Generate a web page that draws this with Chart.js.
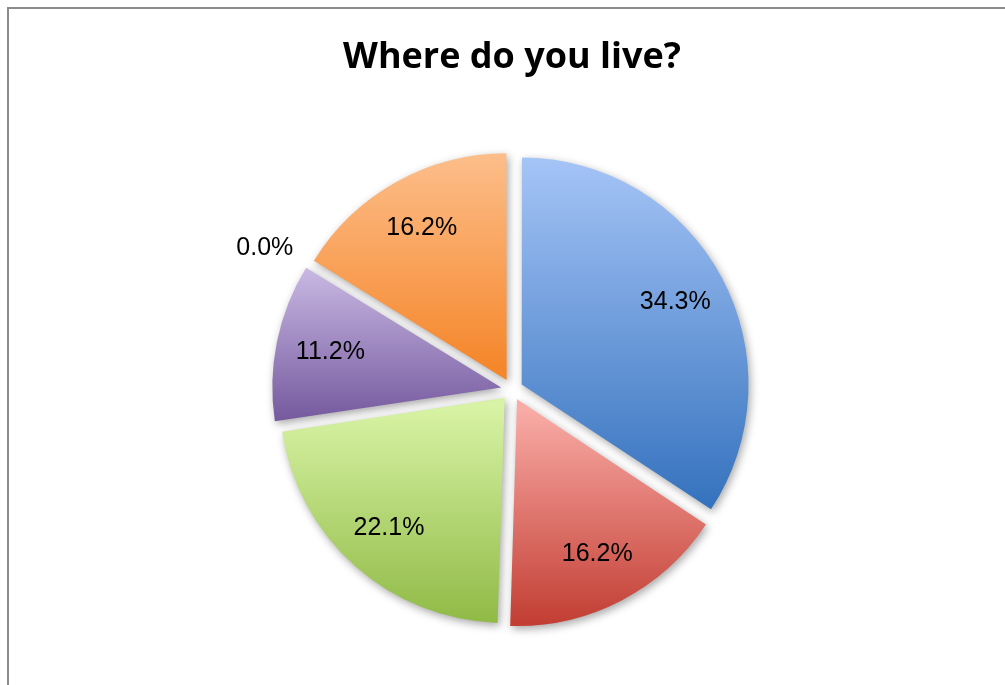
<!DOCTYPE html>
<html>
<head>
<meta charset="utf-8">
<script src="https://cdn.jsdelivr.net/npm/chart.js@4.4.1/dist/chart.umd.min.js"></script>
<style>
  html, body { margin: 0; padding: 0; background: #fff; overflow: hidden; }
  #frame { position: absolute; left: 7px; top: 7px; width: 1100px; height: 800px; border: 2px solid #8c8c8c; }
  #wrap { position: absolute; left: 0; top: 0; width: 1005px; height: 685px; }
</style>
</head>
<body>
<div id="frame"></div>
<div id="wrap"><canvas id="myChart"></canvas></div>
<script>
// answers, clockwise from 12 o'clock
const categories = ["Option 1", "Option 2", "Option 3", "Option 4", "Option 5", "Option 6"]
const shares = [34.3, 16.2, 22.1, 11.2, 0.0, 16.2]

// each slice fades from a light top to a darker bottom
const topColors = ["#a6c5f7", "#f9aba6", "#d8f3a5", "#c9b9e3", "#9bbb59", "#fdc08e"]
const bottomColors = ["#3673be", "#c0392e", "#8db842", "#765a9f", "#9bbb59", "#f5862a"]

const sliceLook = {
    id: 'sliceLook',
    beforeDatasetsDraw(chart) {
        const ctx = chart.ctx
        const meta = chart.getDatasetMeta(0)
        meta.data.forEach((arc, i) => {
            const {y, startAngle, endAngle, outerRadius} = arc.getProps(['y', 'startAngle', 'endAngle', 'outerRadius'], true)
            const mid = (startAngle + endAngle) / 2
            const shift = (arc.options.offset || 0) / 4
            const cy = y + Math.sin(mid) * shift
            const ys = [cy, cy + Math.sin(startAngle) * outerRadius, cy + Math.sin(endAngle) * outerRadius]
            const passes = a => {
                let t = a
                while (t < startAngle) t += 2 * Math.PI
                return t <= endAngle
            }
            if (passes(-Math.PI / 2)) ys.push(cy - outerRadius)
            if (passes(Math.PI / 2)) ys.push(cy + outerRadius)
            const g = ctx.createLinearGradient(0, Math.min(...ys), 0, Math.max(...ys))
            g.addColorStop(0, topColors[i])
            g.addColorStop(1, bottomColors[i])
            arc.options.backgroundColor = g
        })
        ctx.save()
        ctx.shadowColor = 'rgba(0,0,0,0.35)'
        ctx.shadowBlur = 8
        ctx.shadowOffsetX = 2
        ctx.shadowOffsetY = 3
    },
    afterDatasetsDraw(chart) {
        const ctx = chart.ctx
        ctx.restore()
        const meta = chart.getDatasetMeta(0)
        ctx.save()
        ctx.font = '25px "Liberation Sans", Arial, sans-serif'
        ctx.fillStyle = '#000'
        meta.data.forEach((arc, i) => {
            const {x, y, startAngle, endAngle, outerRadius} = arc.getProps(['x', 'y', 'startAngle', 'endAngle', 'outerRadius'], true)
            const mid = (startAngle + endAngle) / 2
            const cos = Math.cos(mid), sin = Math.sin(mid)
            const text = shares[i].toFixed(1) + '%'
            if (shares[i] > 0) {
                const dist = (arc.options.offset || 0) / 4 + 0.775 * outerRadius
                ctx.textAlign = 'center'
                ctx.textBaseline = 'middle'
                ctx.fillText(text, x + cos * dist, y + sin * dist)
            } else {
                // empty slice: label sits outside, its near corner on the bisector
                const dist = outerRadius + 32
                ctx.textAlign = cos < 0 ? 'right' : 'left'
                ctx.textBaseline = sin < 0 ? 'alphabetic' : 'top'
                ctx.fillText(text, x + cos * dist, y + sin * dist)
            }
        })
        ctx.restore()
    }
}

new Chart("myChart", {
    type: "pie",
    data: {
        labels: categories,
        datasets: [{
            data: shares,
            backgroundColor: topColors,
            borderWidth: 0,
            offset: 44
        }]
    },
    options: {
        responsive: true,
        maintainAspectRatio: false,
        animation: false,
        radius: 225,
        layout: {padding: {left: 19, right: 0, top: 0, bottom: 2}},
        plugins: {
            legend: {display: false},
            tooltip: {enabled: false},
            title: {
                display: true,
                text: "Where do you live?",
                color: "#000",
                font: {family: "Open Sans", size: 36, weight: "bold"},
                padding: {top: 36, bottom: 17}
            }
        }
    },
    plugins: [sliceLook]
});
</script>
</body>
</html>
